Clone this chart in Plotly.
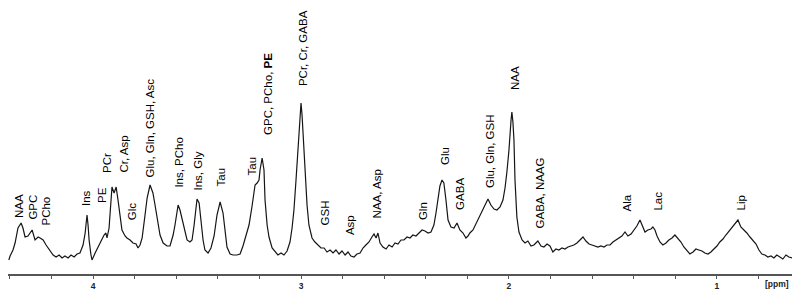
import plotly.graph_objects as go

# Chemical shift (ppm) and signal intensity (arbitrary units)
ppm = [4.405, 4.399, 4.385, 4.375, 4.361, 4.346, 4.337, 4.327, 4.313, 4.293,
       4.279, 4.264, 4.255, 4.240, 4.226, 4.216, 4.202, 4.192, 4.178, 4.163,
       4.149, 4.135, 4.120, 4.106, 4.091, 4.077, 4.063, 4.048, 4.038, 4.029,
       4.024, 4.019, 4.010, 4.005, 3.990, 3.976, 3.962, 3.947, 3.938, 3.933,
       3.923, 3.918, 3.909, 3.899, 3.889, 3.880, 3.870, 3.861, 3.846, 3.837,
       3.822, 3.808, 3.793, 3.784, 3.774, 3.764, 3.750, 3.740, 3.726, 3.712,
       3.702, 3.692, 3.678, 3.663, 3.644, 3.630, 3.615, 3.606, 3.591, 3.582,
       3.572, 3.558, 3.548, 3.534, 3.524, 3.514, 3.510, 3.500, 3.490, 3.481,
       3.471, 3.462, 3.447, 3.433, 3.418, 3.404, 3.389, 3.375, 3.365, 3.356,
       3.341, 3.327, 3.308, 3.293, 3.279, 3.264, 3.250, 3.236, 3.221, 3.211,
       3.202, 3.197, 3.187, 3.178, 3.173, 3.163, 3.154, 3.139, 3.125, 3.111,
       3.096, 3.082, 3.067, 3.053, 3.043, 3.034, 3.024, 3.014, 3.005, 3.000,
       2.995, 2.990, 2.981, 2.971, 2.962, 2.947, 2.933, 2.918, 2.904, 2.889,
       2.875, 2.860, 2.846, 2.832, 2.817, 2.803, 2.788, 2.774, 2.760, 2.745,
       2.731, 2.716, 2.702, 2.688, 2.673, 2.659, 2.649, 2.639, 2.630, 2.620,
       2.606, 2.591, 2.577, 2.562, 2.548, 2.534, 2.519, 2.505, 2.490, 2.476,
       2.462, 2.447, 2.433, 2.418, 2.404, 2.389, 2.375, 2.361, 2.351, 2.341,
       2.332, 2.322, 2.313, 2.303, 2.293, 2.279, 2.264, 2.250, 2.236, 2.221,
       2.207, 2.197, 2.188, 2.173, 2.159, 2.144, 2.130, 2.115, 2.101, 2.087,
       2.072, 2.058, 2.043, 2.029, 2.019, 2.010, 2.000, 1.990, 1.986, 1.981,
       1.976, 1.971, 1.962, 1.952, 1.937, 1.923, 1.909, 1.894, 1.880, 1.861,
       1.846, 1.832, 1.817, 1.803, 1.789, 1.774, 1.760, 1.745, 1.731, 1.716,
       1.702, 1.688, 1.673, 1.659, 1.644, 1.630, 1.615, 1.601, 1.587, 1.572,
       1.558, 1.543, 1.529, 1.514, 1.500, 1.486, 1.471, 1.457, 1.442, 1.428,
       1.413, 1.399, 1.385, 1.370, 1.356, 1.346, 1.332, 1.317, 1.308, 1.298,
       1.288, 1.274, 1.260, 1.245, 1.231, 1.216, 1.202, 1.188, 1.173, 1.159,
       1.144, 1.130, 1.115, 1.101, 1.087, 1.072, 1.058, 1.043, 1.029, 1.014,
       1.000, 0.986, 0.971, 0.957, 0.942, 0.928, 0.913, 0.899, 0.885, 0.870,
       0.856, 0.841, 0.827, 0.812, 0.798, 0.784, 0.769, 0.755, 0.740, 0.726,
       0.712, 0.697, 0.683, 0.668, 0.654, 0.639]

intensity = [14, 18, 24, 31, 46, 51, 46, 37, 38, 44,
             34, 37, 36, 34, 29, 26, 22, 19, 17, 19,
             16, 18, 16, 19, 17, 20, 21, 29, 41, 59,
             49, 34, 19, 14, 21, 27, 33, 39, 41, 36,
             46, 59, 87, 81, 87, 74, 56, 44, 38, 36,
             34, 31, 30, 26, 29, 36, 59, 76, 89, 81,
             69, 57, 39, 31, 28, 28, 39, 49, 69, 64,
             56, 42, 34, 32, 34, 49, 59, 75, 71, 54,
             34, 24, 21, 26, 38, 59, 72, 61, 39, 27,
             20, 19, 19, 20, 28, 38, 49, 67, 89, 91,
             94, 104, 116, 104, 74, 49, 37, 26, 22, 19,
             21, 19, 23, 32, 46, 64, 94, 129, 164, 171,
             159, 139, 99, 69, 49, 36, 32, 29, 26, 26,
             22, 24, 21, 24, 20, 23, 19, 22, 18, 17,
             20, 21, 26, 29, 32, 37, 40, 36, 41, 31,
             27, 25, 29, 27, 31, 30, 34, 34, 37, 36,
             39, 38, 41, 44, 43, 41, 42, 49, 61, 76,
             88, 94, 91, 74, 54, 47, 46, 51, 44, 41,
             36, 38, 41, 44, 50, 56, 61, 69, 75, 69,
             65, 64, 67, 74, 86, 102, 124, 154, 162, 152,
             134, 94, 57, 42, 34, 31, 33, 28, 29, 33,
             28, 27, 30, 28, 22, 25, 24, 26, 25, 27,
             28, 29, 31, 34, 37, 33, 30, 29, 28, 27,
             28, 27, 29, 29, 32, 34, 36, 38, 42, 38,
             40, 44, 48, 54, 48, 42, 44, 45, 47, 44,
             38, 32, 29, 31, 34, 36, 39, 36, 32, 27,
             23, 20, 22, 25, 24, 23, 21, 20, 22, 25,
             28, 32, 35, 39, 43, 46, 50, 54, 47, 44,
             41, 37, 34, 30, 24, 20, 19, 17, 18, 16,
             19, 17, 15, 19, 17, 16]

# Peak assignment labels: text, shift (ppm), intensity at label base
label_text = ["NAA", "GPC", "PCho", "Ins", "PE", "PCr", "Cr, Asp", "Glc",
              "Glu, Gln, GSH, Asc", "Ins, PCho", "Ins, Gly", "Tau", "Tau",
              "GPC, PCho, <b>PE</b>", "PCr, Cr, GABA", "GSH", "Asp", "NAA, Asp",
              "Gln", "Glu", "GABA", "Glu, Gln, GSH", "NAA", "GABA, NAAG",
              "Ala", "Lac", "Lip"]
label_ppm = [4.356, 4.293, 4.231, 4.034, 3.957, 3.933, 3.856, 3.812,
             3.731, 3.591, 3.500, 3.385, 3.236,
             3.159, 2.990, 2.885, 2.764, 2.635,
             2.413, 2.308, 2.236, 2.091, 1.971, 1.851,
             1.433, 1.288, 0.889]
label_base = [54, 52, 46, 66, 69, 99, 99, 52,
              94, 84, 81, 86, 97,
              137, 186, 47, 37, 54,
              52, 107, 62, 84, 182, 44,
              61, 61, 61]

major_ticks = [4, 3, 2, 1]
axis_unit = "[ppm]"

FONT = "Liberation Sans, Arial, sans-serif"

fig = go.Figure()
fig.add_trace(go.Scatter(
    x=ppm, y=intensity, mode="lines",
    line=dict(color="#151515", width=1.2),
    hoverinfo="skip", showlegend=False,
))

for t, xp, yb in zip(label_text, label_ppm, label_base):
    fig.add_annotation(
        x=xp, y=yb, text=t, textangle=-90, showarrow=False,
        xanchor="center", yanchor="bottom",
        font=dict(family=FONT, size=11.5, color="#000000"),
    )

fig.add_annotation(
    x=0.712, xref="x", y=0, yref="paper", yanchor="top", yshift=-3,
    text="<b>" + axis_unit + "</b>", showarrow=False,
    font=dict(family=FONT, size=8.5, color="#222222"),
)

# The page body adds an 8 px offset, so the figure is sized to fit the window.
fig.update_layout(
    width=792, height=287,
    margin=dict(l=0, r=8, t=0, b=21, autoexpand=False),
    paper_bgcolor="white", plot_bgcolor="white",
    xaxis=dict(
        range=[4.409, 0.639], showgrid=False, zeroline=False, automargin=False,
        showline=True, linecolor="#555555", linewidth=1.5,
        tickmode="array", tickvals=major_ticks,
        ticktext=["<b>%d</b>" % v for v in major_ticks],
        ticks="outside", ticklen=3, tickcolor="#555555",
        tickfont=dict(family=FONT, size=8.5, color="#222222"),
        minor=dict(dtick=0.2, tick0=0, ticks="outside", ticklen=3, tickcolor="#555555"),
    ),
    yaxis=dict(range=[0, 266], visible=False),
)

fig.write_html("out.html")
